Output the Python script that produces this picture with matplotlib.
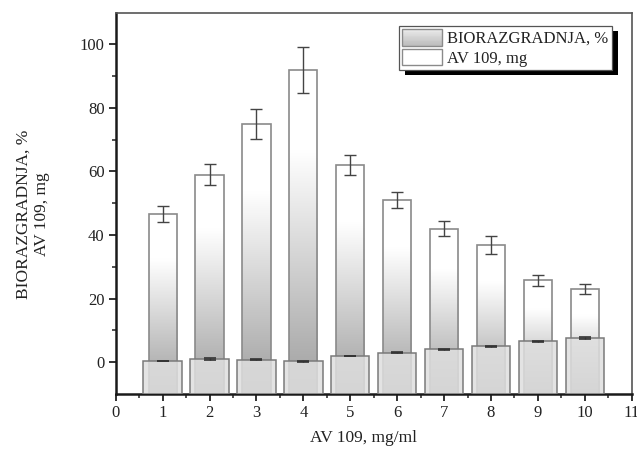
import numpy as np
import matplotlib
matplotlib.use("Agg")
import matplotlib.pyplot as plt
from matplotlib.patches import Rectangle
from matplotlib.legend_handler import HandlerBase

# ---- data ----
conc = [1, 2, 3, 4, 5, 6, 7, 8, 9, 10]
bio = [46.6, 59.0, 74.8, 92.0, 62.0, 51.1, 42.0, 36.9, 25.8, 22.9]
bio_err = [2.4, 3.3, 4.7, 7.3, 3.2, 2.5, 2.3, 2.8, 1.7, 1.6]
av = [0.4, 0.9, 0.8, 0.3, 1.9, 3.0, 4.1, 5.0, 6.6, 7.5]
av_err = [0.1, 0.35, 0.15, 0.15, 0.05, 0.15, 0.2, 0.15, 0.15, 0.3]
xticks = list(range(0, 12))
yticks = [0, 20, 40, 60, 80, 100]
label_bio = "BIORAZGRADNJA, %"
label_av = "AV 109, mg"
xlabel = "AV 109, mg/ml"
ylabel = "BIORAZGRADNJA, %\nAV 109, mg"

plt.rcParams['font.family'] = ['Liberation Serif', 'DejaVu Serif']

W, H = 637, 453
fig = plt.figure(figsize=(W / 100, H / 100), dpi=100)
ax = fig.add_axes([115.7 / W, 1 - 394 / H, (631.7 - 115.7) / W, (394 - 12.5) / H])

ymin, ymax = -10, 110
bw_bio, bw_av = 0.6, 0.82

def gray_of(t):
    return 0.62 + 0.38 * np.clip(t / 0.75, 0, 1)

# biodegradation bars with vertical gradient
bars = ax.bar(conc, np.array(bio) - ymin, bottom=ymin, width=bw_bio,
              facecolor='none', edgecolor='#8a8a8a', linewidth=1.2, zorder=2.2)
tt = np.linspace(0, 1, 256)[::-1].reshape(-1, 1)
grad = np.repeat(gray_of(tt)[:, :, None], 3, axis=2)
for rect in bars:
    x0 = rect.get_x()
    im = ax.imshow(grad, extent=[x0, x0 + rect.get_width(), rect.get_y(),
                                 rect.get_y() + rect.get_height()],
                   aspect='auto', zorder=2.1, interpolation='bilinear')
    im.set_clip_path(rect)

ax.errorbar(conc, bio, yerr=bio_err, fmt='none', ecolor='#444444',
            elinewidth=1.0, capsize=4, capthick=1.0, zorder=4)

# AV bars
ax.bar(conc, np.array(av) - ymin, bottom=ymin, width=bw_av,
       facecolor=(0.875, 0.875, 0.875, 0.85), edgecolor='#7a7a7a',
       linewidth=1.1, zorder=3)
ax.errorbar(conc, av, yerr=av_err, fmt='none', ecolor='#333333',
            elinewidth=1.0, capsize=4, capthick=1.2, zorder=4)

ax.set_xlim(0, 11)
ax.set_ylim(ymin, ymax)
ax.set_xticks(xticks)
ax.set_yticks(yticks)
ax.set_xticks(np.arange(0.5, 11, 1), minor=True)
ax.set_yticks(np.arange(-10, 110, 20)[1:] if False else [10, 30, 50, 70, 90, -10 + 0], minor=True)
ax.set_yticks([10, 30, 50, 70, 90], minor=True)
ax.tick_params(axis='both', which='major', direction='out', length=5, width=1.3,
               labelsize=12, colors='#222222', pad=3)
ax.tick_params(axis='both', which='minor', direction='out', length=3, width=1.1,
               colors='#222222')
ax.tick_params(top=False, right=False)

for s in ['left', 'bottom']:
    ax.spines[s].set_linewidth(1.8)
    ax.spines[s].set_color('#1a1a1a')
for s in ['top', 'right']:
    ax.spines[s].set_linewidth(1.2)
    ax.spines[s].set_color('#555555')

ax.set_xlabel(xlabel, fontsize=12.5, color='#222222')
ax.xaxis.set_label_coords(0.48, -0.094)
ax.xaxis.label.set_verticalalignment('top')
ax.set_ylabel(ylabel, fontsize=12.5, color='#222222', linespacing=1.25)
ax.yaxis.set_label_coords(-0.127, 0.472)


class GradHandler(HandlerBase):
    def create_artists(self, legend, orig_handle, xdescent, ydescent,
                       width, height, fontsize, trans):
        arts = []
        n = 20
        for i in range(n):
            g = 0.74 + 0.18 * (i / (n - 1))
            arts.append(Rectangle((-xdescent, -ydescent + height * i / n), width,
                                  height / n + 0.3, facecolor=(g, g, g),
                                  edgecolor='none', transform=trans))
        arts.append(Rectangle((-xdescent, -ydescent), width, height,
                              facecolor='none', edgecolor='#8a8a8a',
                              linewidth=1.0, transform=trans))
        return arts


h_bio = Rectangle((0, 0), 1, 1)
h_av = Rectangle((0, 0), 1, 1, facecolor='white', edgecolor='#8a8a8a', linewidth=1.0)
leg = ax.legend([h_bio, h_av], [label_bio, label_av],
                handler_map={h_bio: GradHandler()},
                loc='upper right', bbox_to_anchor=(0.9618, 0.9654),
                borderaxespad=0, fontsize=12, frameon=True, fancybox=False,
                framealpha=1, edgecolor='#555555', handlelength=2.4,
                handleheight=1.15, labelspacing=0.12, borderpad=0.2,
                handletextpad=0.3)
leg.get_frame().set_linewidth(0.9)
leg.set_zorder(6)
for t in leg.get_texts():
    t.set_color('#222222')

fig.canvas.draw()
bb = leg.get_window_extent()
inv = ax.transAxes.inverted()
(x0, y0), (x1, y1) = inv.transform([[bb.x0 + 6, bb.y0 - 5], [bb.x1 + 6, bb.y1 - 5]])
ax.add_patch(Rectangle((x0, y0), x1 - x0, y1 - y0, transform=ax.transAxes,
                       facecolor='black', edgecolor='none', clip_on=False, zorder=5.5))

fig.savefig("out.png", dpi=100)
